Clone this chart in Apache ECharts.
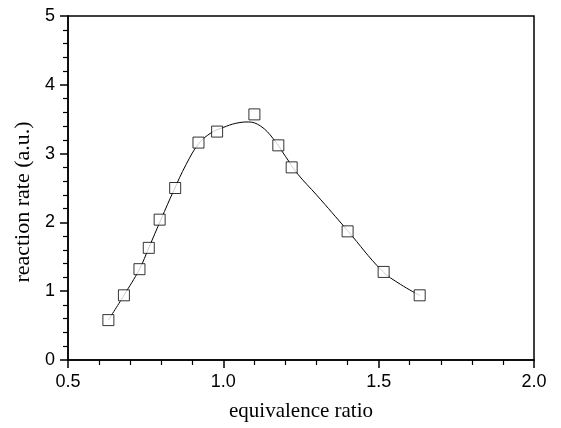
<!DOCTYPE html>
<html>
<head>
<meta charset="utf-8">
<script src="https://cdn.jsdelivr.net/npm/echarts@6/dist/echarts.min.js"></script>
<style>
  html, body { margin: 0; padding: 0; background: #fff; }
  #chart { width: 561px; height: 428px; }
</style>
</head>
<body>
<div id="chart"></div>
<script>
// measured points
const ratio = [0.63, 0.68, 0.73, 0.76, 0.795, 0.845, 0.92, 0.98, 1.10, 1.177, 1.22, 1.40, 1.516, 1.632];
const rate = [0.58, 0.94, 1.32, 1.63, 2.04, 2.50, 3.16, 3.32, 3.57, 3.12, 2.80, 1.87, 1.28, 0.94];

// fitted curve
const fitX = [0.63, 0.68, 0.73, 0.76, 0.80, 0.84, 0.88, 0.92, 0.96, 1.00, 1.04, 1.08, 1.12, 1.16, 1.20, 1.24, 1.30, 1.40, 1.51, 1.57, 1.632];
const fitY = [0.58, 0.94, 1.32, 1.63, 2.05, 2.46, 2.84, 3.14, 3.30, 3.38, 3.44, 3.46, 3.40, 3.22, 2.96, 2.70, 2.40, 1.88, 1.30, 1.10, 0.94];

const xTicks = [0.5, 1.0, 1.5, 2.0];
const yTicks = [0, 1, 2, 3, 4, 5];

let chart = echarts.init(document.getElementById("chart"));
chart.setOption({
  animation: false,
  grid: {
    left: 68,
    right: 27,
    top: 16,
    bottom: 68,
    show: true,
    borderColor: "#000",
    borderWidth: 1.5
  },
  xAxis: {
    type: "value",
    min: xTicks[0],
    max: xTicks[xTicks.length - 1],
    interval: 0.5,
    name: "equivalence ratio",
    nameLocation: "middle",
    nameGap: 41,
    nameTextStyle: { fontFamily: "Liberation Serif", fontSize: 21, color: "#000" },
    axisLine: { lineStyle: { color: "#000", width: 1.5 } },
    axisTick: { length: 8, lineStyle: { color: "#000", width: 1.5 } },
    minorTick: { show: true, splitNumber: 5, length: 5, lineStyle: { color: "#000", width: 1.2 } },
    splitLine: { show: false },
    axisLabel: {
      margin: 13,
      fontFamily: "Liberation Sans",
      fontSize: 18,
      color: "#000",
      formatter: v => v.toFixed(1)
    }
  },
  yAxis: {
    type: "value",
    min: yTicks[0],
    max: yTicks[yTicks.length - 1],
    interval: 1,
    name: "reaction rate (a.u.)",
    nameLocation: "middle",
    nameGap: 27,
    nameTextStyle: {
      fontFamily: "Liberation Serif",
      fontSize: 22,
      color: "#000",
      padding: [0, 28, 0, 0]
    },
    axisLine: { lineStyle: { color: "#000", width: 1.5 } },
    axisTick: { length: 8, lineStyle: { color: "#000", width: 1.5 } },
    minorTick: { show: true, splitNumber: 5, length: 5, lineStyle: { color: "#000", width: 1.2 } },
    splitLine: { show: false },
    axisLabel: {
      margin: 13,
      fontFamily: "Liberation Sans",
      fontSize: 18,
      color: "#000"
    }
  },
  series: [
    {
      type: "line",
      data: fitX.map((x, i) => [x, fitY[i]]),
      smooth: 0.4,
      showSymbol: false,
      lineStyle: { color: "#000", width: 1 }
    },
    {
      type: "scatter",
      data: ratio.map((x, i) => [x, rate[i]]),
      symbol: "rect",
      symbolSize: 11,
      itemStyle: { color: "#fff", borderColor: "#000", borderWidth: 1 },
      z: 3
    }
  ]
});
</script>
</body>
</html>
